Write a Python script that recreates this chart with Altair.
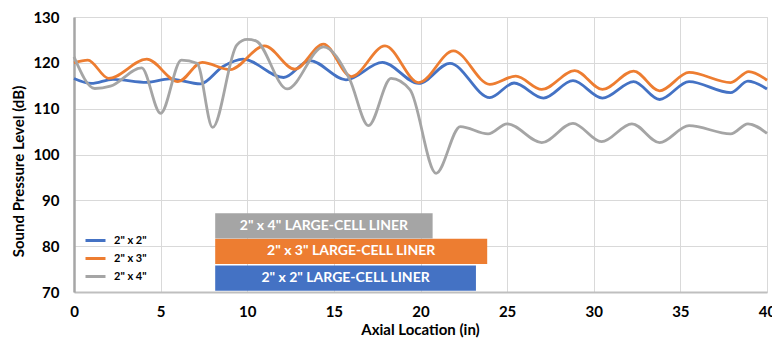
import altair as alt
import pandas as pd

series_names = ['2" x 2"', '2" x 3"', '2" x 4"']
colors = ["#4472C4", "#ED7D31", "#A5A5A5"]

blue_x = [0, 1.0, 2.25, 4.2, 5.5, 7.3, 8.6, 9.75, 12.1, 13.6, 15.7, 17.8, 19.9, 21.7, 24.0, 25.4, 27.1, 28.8, 30.5, 32.3, 33.8, 35.5, 37.9, 38.9, 40]
blue_y = [116.6, 115.5, 116.4, 115.75, 116.5, 115.4, 119.2, 120.8, 116.8, 120.5, 116.3, 120.1, 115.5, 119.9, 112.4, 115.6, 112.3, 116.1, 112.3, 115.9, 112.0, 115.9, 113.5, 116.0, 114.3]

orange_x = [0, 0.8, 2.0, 4.2, 6.0, 7.4, 9.0, 11.0, 12.75, 14.4, 16.0, 17.95, 19.9, 21.9, 24.0, 25.5, 27.0, 28.9, 30.5, 32.3, 33.8, 35.5, 37.9, 38.95, 40]
orange_y = [120.0, 120.6, 116.6, 120.8, 115.9, 120.1, 118.5, 123.7, 118.6, 124.1, 117.0, 123.7, 115.7, 122.6, 115.3, 117.1, 114.2, 118.3, 114.2, 118.2, 113.9, 117.9, 115.7, 118.1, 116.2]

gray_x = [0, 1.2, 2.1, 3.9, 5.0, 6.2, 7.1, 8.0, 9.4, 10.0, 10.5, 12.3, 14.4, 15.9, 17.0, 18.3, 19.4, 20.9, 22.3, 23.9, 25.0, 27.0, 28.8, 30.45, 32.2, 33.8, 35.5, 37.9, 38.9, 40]
gray_y = [121.3, 114.4, 114.9, 118.9, 109.0, 120.6, 119.9, 105.9, 123.9, 125.1, 124.8, 114.3, 123.5, 116.5, 106.3, 116.6, 114.1, 95.9, 106.1, 104.5, 106.7, 102.6, 106.8, 102.8, 106.7, 102.6, 106.3, 104.5, 106.7, 104.6]

liner_start = [8.15, 8.15, 8.15]
liner_end = [23.2, 23.85, 20.7]
liner_low = [70.3, 76.1, 81.7]
liner_high = [75.8, 81.6, 87.2]

x_ticks = [0, 5, 10, 15, 20, 25, 30, 35, 40]
y_ticks = [70, 80, 90, 100, 110, 120, 130]

rows = []
for name, xs, ys in zip(series_names, [blue_x, orange_x, gray_x], [blue_y, orange_y, gray_y]):
    for a, b in zip(xs, ys):
        rows.append({"series": name, "x": a, "y": b})
lines_df = pd.DataFrame(rows)

bars_df = pd.DataFrame({
    "series": series_names,
    "start": liner_start,
    "end": liner_end,
    "low": liner_low,
    "high": liner_high,
})
bars_df["label"] = bars_df["series"] + " LARGE-CELL LINER"

FONT = "Lato"
color_scale = alt.Scale(domain=series_names, range=colors)
xscale = alt.Scale(domain=[0, 40], nice=False)
yscale = alt.Scale(domain=[70, 130], nice=False)

x_axis = alt.Axis(values=x_ticks, title="Axial Location (in)", grid=True, gridColor="#D9D9D9",
                  domainColor="#BFBFBF", domainWidth=2, ticks=False, labelPadding=12,
                  labelFontSize=15, labelFontWeight="bold", labelColor="#000000", labelFont=FONT,
                  titleFontSize=15, titleFontWeight="bold", titleColor="#000000", titleFont=FONT,
                  titleX=346, titleY=37, titleBaseline="middle", titleAlign="center",
                  labelFlush=False, labelOverlap=False)
y_axis = alt.Axis(values=y_ticks, title="Sound Pressure Level (dB)", grid=True, gridColor="#D9D9D9",
                  domainColor="#A6A6A6", domainWidth=2.5, ticks=False, labelPadding=15,
                  labelFontSize=15, labelFontWeight="bold", labelColor="#000000", labelFont=FONT,
                  titleFontSize=15, titleFontWeight="bold", titleColor="#000000", titleFont=FONT,
                  titleX=-56, titleY=154, titleBaseline="middle", titleAlign="center", titleAngle=-90,
                  labelFlush=False, labelOverlap=False)

legend = alt.Legend(title=None, orient="none", legendX=10, legendY=212,
                    symbolType="stroke", symbolStrokeWidth=3, symbolSize=400,
                    labelFontSize=11, labelFontWeight="bold", labelFont=FONT,
                    labelColor="#000000", rowPadding=0, padding=0, labelOffset=7)

lines = alt.Chart(lines_df).mark_line(interpolate="monotone", strokeWidth=2.8).encode(
    x=alt.X("x:Q", scale=xscale, axis=x_axis),
    y=alt.Y("y:Q", scale=yscale, axis=y_axis),
    color=alt.Color("series:N", scale=color_scale, sort=series_names, legend=legend),
    detail="series:N",
)

bars = alt.Chart(bars_df).mark_rect().encode(
    x=alt.X("start:Q", scale=xscale),
    x2="end:Q",
    y=alt.Y("low:Q", scale=yscale),
    y2="high:Q",
    color=alt.Color("series:N", scale=color_scale, sort=series_names, legend=legend),
)

texts = alt.Chart(bars_df).transform_calculate(
    mx="(datum.start + datum.end) / 2", my="(datum.low + datum.high) / 2"
).mark_text(color="white", fontWeight="bold", fontSize=14, font=FONT, baseline="middle", align="center").encode(
    x=alt.X("mx:Q", scale=xscale),
    y=alt.Y("my:Q", scale=yscale),
    text="label:N",
)

chart = alt.layer(lines, bars, texts).properties(
    width=693, height=275,
    autosize=alt.AutoSizeParams(type="none"),
    padding={"left": 74, "top": 17, "right": 5, "bottom": 49},
).configure_view(stroke="#404040", strokeWidth=1.5).configure(font=FONT, background="white")

chart.save("out.html", embed_options={"renderer": "svg", "actions": False})
